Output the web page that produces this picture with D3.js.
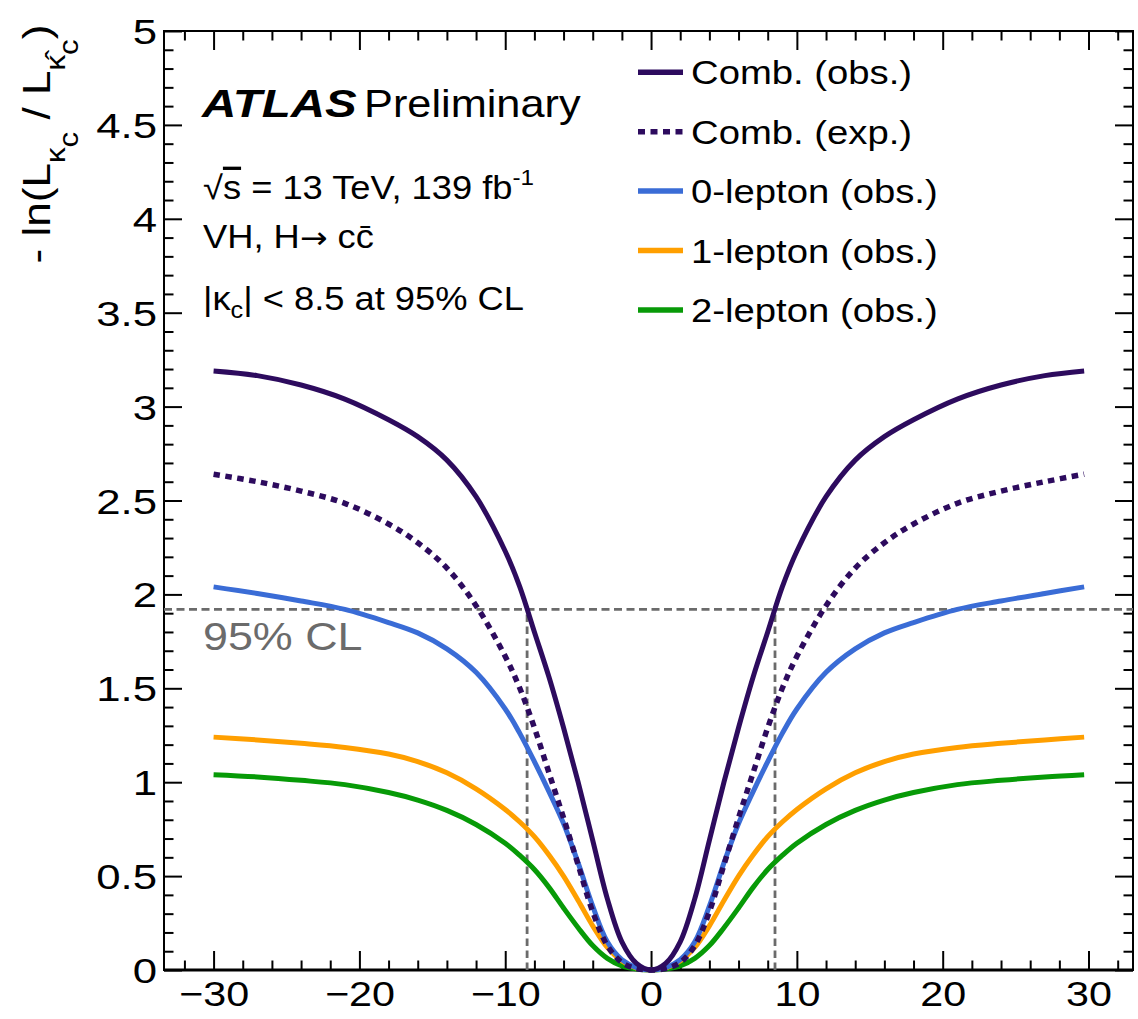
<!DOCTYPE html>
<html>
<head>
<meta charset="utf-8">
<script src="https://cdn.jsdelivr.net/npm/d3@7"></script>
<style>
  body { margin: 0; background: #fff; }
  svg { display: block; font-family: "Liberation Sans", Arial, Helvetica, sans-serif; }
</style>
</head>
<body>
<svg id="chart" width="1138" height="1019"></svg>
<script>
// kappa_c scan points (same grid for every curve)
const kappa = [-30, -27, -24, -21, -18, -16, -14, -12, -10, -9, -8, -7, -6, -5, -4, -3, -2, -1, 0,
  1, 2, 3, 4, 5, 6, 7, 8, 9, 10, 12, 14, 16, 18, 21, 24, 27, 29.7];

// -ln(L/Lmax)
const combObs = [3.19, 3.165, 3.115, 3.04, 2.93, 2.84, 2.715, 2.52, 2.23, 2.04, 1.80, 1.56, 1.29, 1.00, 0.69, 0.38, 0.15, 0.035, 0,
  0.035, 0.15, 0.38, 0.69, 1.00, 1.29, 1.56, 1.80, 2.04, 2.23, 2.52, 2.715, 2.84, 2.93, 3.04, 3.115, 3.165, 3.19];
const combExp = [2.64, 2.60, 2.55, 2.485, 2.375, 2.275, 2.14, 1.94, 1.67, 1.50, 1.29, 1.05, 0.81, 0.56, 0.31, 0.13, 0.04, 0.008, 0,
  0.008, 0.04, 0.13, 0.31, 0.56, 0.81, 1.05, 1.29, 1.50, 1.67, 1.94, 2.14, 2.275, 2.375, 2.485, 2.55, 2.60, 2.64];
const zeroLep = [2.04, 2.005, 1.965, 1.92, 1.85, 1.795, 1.71, 1.585, 1.39, 1.26, 1.11, 0.95, 0.78, 0.57, 0.34, 0.15, 0.055, 0.013, 0,
  0.013, 0.055, 0.15, 0.34, 0.57, 0.78, 0.95, 1.11, 1.26, 1.39, 1.585, 1.71, 1.795, 1.85, 1.92, 1.965, 2.005, 2.04];
const oneLep = [1.24, 1.225, 1.207, 1.185, 1.15, 1.11, 1.05, 0.965, 0.855, 0.788, 0.71, 0.612, 0.50, 0.37, 0.235, 0.12, 0.048, 0.01, 0,
  0.01, 0.048, 0.12, 0.235, 0.37, 0.50, 0.612, 0.71, 0.788, 0.855, 0.965, 1.05, 1.11, 1.15, 1.185, 1.207, 1.225, 1.24];
const twoLep = [1.04, 1.028, 1.01, 0.987, 0.945, 0.905, 0.85, 0.775, 0.675, 0.61, 0.535, 0.44, 0.33, 0.225, 0.13, 0.062, 0.022, 0.005, 0,
  0.005, 0.022, 0.062, 0.13, 0.225, 0.33, 0.44, 0.535, 0.61, 0.675, 0.775, 0.85, 0.905, 0.945, 0.987, 1.01, 1.028, 1.04];

const legendLabels = ["Comb. (obs.)", "Comb. (exp.)", "0-lepton (obs.)", "1-lepton (obs.)", "2-lepton (obs.)"];
const xMajor = [-30, -20, -10, 0, 10, 20, 30];
const xMinor = [-32, -28, -26, -24, -22, -18, -16, -14, -12, -8, -6, -4, -2, 2, 4, 6, 8, 12, 14, 16, 18, 22, 24, 26, 28, 32];
const xTickLabels = ["\u221230", "\u221220", "\u221210", "0", "10", "20", "30"];
const yMajor = [0, 0.5, 1, 1.5, 2, 2.5, 3, 3.5, 4, 4.5, 5];
const yTickLabels = ["0", "0.5", "1", "1.5", "2", "2.5", "3", "3.5", "4", "4.5", "5"];
const clLevel = 1.92;     // 95% CL line
const kappaLimit = 8.5;   // observed |kappa_c| limit

const series = [
  { name: legendLabels[0], values: combObs, color: "#2d0b5e", dash: null },
  { name: legendLabels[1], values: combExp, color: "#2d0b5e", dash: "6.5,5.5" },
  { name: legendLabels[2], values: zeroLep, color: "#3a6cd6", dash: null },
  { name: legendLabels[3], values: oneLep, color: "#ff9f00", dash: null },
  { name: legendLabels[4], values: twoLep, color: "#079a07", dash: null }
];

const frame = { left: 164, right: 1133, top: 31, bottom: 970 };
const SX = 1.18; // the reference text is a bit wider than Liberation Sans

const svg = d3.select("#chart");

const x = d3.scaleLinear().domain([-33.4, 33.05]).range([frame.left, frame.right]);
const y = d3.scaleLinear().domain([0, 5]).range([frame.bottom, frame.top]);

// minor y ticks every 0.1
const yMinor = d3.range(0, 51).map(i => i / 10).filter(v => !yMajor.some(m => Math.abs(m - v) < 1e-6));

function tickAxis(axis, tr) {
  const g = svg.append("g").attr("transform", tr).call(axis);
  g.select(".domain").remove();
  g.selectAll(".tick line").attr("stroke", "#000").attr("stroke-width", 2);
  return g;
}

// ticks all point inward (ROOT style), mirrored on top and right
tickAxis(d3.axisBottom(x).tickValues(xMinor).tickSize(-9.5).tickFormat(""), `translate(0,${frame.bottom})`);
tickAxis(d3.axisTop(x).tickValues(xMinor).tickSize(-9.5).tickFormat(""), `translate(0,${frame.top})`);
tickAxis(d3.axisTop(x).tickValues(xMajor).tickSize(-19).tickFormat(""), `translate(0,${frame.top})`);
tickAxis(d3.axisLeft(y).tickValues(yMinor).tickSize(-9.5).tickFormat(""), `translate(${frame.left},0)`);
tickAxis(d3.axisRight(y).tickValues(yMinor).tickSize(-9.5).tickFormat(""), `translate(${frame.right},0)`);
tickAxis(d3.axisRight(y).tickValues(yMajor).tickSize(-18).tickFormat(""), `translate(${frame.right},0)`);

const xAxis = tickAxis(
  d3.axisBottom(x).tickValues(xMajor).tickSize(-19).tickPadding(0).tickFormat((d, i) => xTickLabels[i]),
  `translate(0,${frame.bottom})`
);
xAxis.selectAll("text")
  .attr("fill", "#000").attr("font-size", 35)
  .attr("dy", null).attr("y", 36)
  .attr("transform", `scale(${SX},1)`);

const yAxis = tickAxis(
  d3.axisLeft(y).tickValues(yMajor).tickSize(-18).tickPadding(0).tickFormat((d, i) => yTickLabels[i]),
  `translate(${frame.left},0)`
);
yAxis.selectAll("text")
  .attr("fill", "#000").attr("font-size", 35)
  .attr("dy", null).attr("y", 12.5)
  .attr("x", -7 / 1.25)
  .attr("transform", "scale(1.25,1)");

// frame
svg.append("rect")
  .attr("x", frame.left).attr("y", frame.top)
  .attr("width", frame.right - frame.left).attr("height", frame.bottom - frame.top)
  .attr("fill", "none").attr("stroke", "#000").attr("stroke-width", 2);
svg.append("line")
  .attr("x1", frame.left).attr("x2", frame.right)
  .attr("y1", frame.bottom).attr("y2", frame.bottom)
  .attr("stroke", "#000").attr("stroke-width", 3);

// 95% CL guide lines
const gray = "#6b6b6b";
svg.append("line")
  .attr("x1", frame.left).attr("x2", frame.right)
  .attr("y1", y(clLevel)).attr("y2", y(clLevel))
  .attr("stroke", gray).attr("stroke-width", 2.8).attr("stroke-dasharray", "8,4.5");
[-kappaLimit, kappaLimit].forEach(k => {
  svg.append("line")
    .attr("x1", x(k)).attr("x2", x(k))
    .attr("y1", y(0)).attr("y2", y(clLevel))
    .attr("stroke", gray).attr("stroke-width", 2.8).attr("stroke-dasharray", "7.5,4.5");
});

// curves
const line = d3.line()
  .x((d, i) => x(kappa[i]))
  .y(d => y(d))
  .curve(d3.curveCatmullRom.alpha(0.5));

svg.append("g").selectAll("path")
  .data(series.slice().reverse())
  .join("path")
  .attr("d", d => line(d.values))
  .attr("fill", "none")
  .attr("stroke", d => d.color)
  .attr("stroke-width", d => d.dash ? 5.5 : 5)
  .attr("stroke-dasharray", d => d.dash)
  .attr("stroke-linejoin", "round");

// stretched text helper
function label(px, py, size, sx, parent = svg) {
  return parent.append("text")
    .attr("transform", `translate(${px},${py}) scale(${sx},1)`)
    .attr("font-size", size)
    .attr("fill", "#000");
}

label(203, 650, 39, 1.15).attr("fill", gray).text("95% CL");

// legend
const legend = svg.append("g");
series.forEach((s, i) => {
  const ly = 72.3 + i * 59.4;
  legend.append("line")
    .attr("x1", 638).attr("x2", 683)
    .attr("y1", ly).attr("y2", ly)
    .attr("stroke", s.color).attr("stroke-width", 5.5)
    .attr("stroke-dasharray", s.dash ? "7,5.5" : null);
  label(691, ly + 12, 33, 1.16, legend).text(s.name);
});

// ATLAS label block
label(202, 117, 38, 1.25).attr("font-weight", "bold").attr("font-style", "italic").text("ATLAS");
label(364, 117, 38, 1.14).text("Preliminary");

const t1 = label(203, 199, 33, 1.1);
t1.append("tspan").text("\u221A");
t1.append("tspan").attr("text-decoration", "overline").text("s");
t1.append("tspan").text(" = 13 TeV, 139 fb");
t1.append("tspan").attr("font-size", 22).attr("dy", -14).text("-1");

const t2 = label(203, 248, 33, 1.1);
t2.append("tspan").text("VH, H");
t2.append("tspan").attr("font-family", "DejaVu Sans").attr("font-size", 30).text("\u2192");
t2.append("tspan").text(" cc\u0304");

const t3 = label(203, 310, 33, 1.1);
t3.append("tspan").text("|\u03BA");
t3.append("tspan").attr("font-size", 23).attr("dy", 8).text("c");
t3.append("tspan").attr("dy", -8).text("| < 8.5 at 95% CL");

// y axis title, rotated
const yTitle = svg.append("text")
  .attr("transform", "translate(50,144) rotate(-90) scale(1.16,1)")
  .attr("text-anchor", "middle")
  .attr("font-size", 38)
  .attr("fill", "#000");
yTitle.append("tspan").text("- ln(L");
yTitle.append("tspan").attr("font-size", 27).attr("dy", 15).text("\u03BA");
yTitle.append("tspan").attr("font-size", 27).attr("dy", 13).text("c");
yTitle.append("tspan").attr("dy", -28).text(" / L");
yTitle.append("tspan").attr("font-size", 27).attr("dy", 15).text("\u03BA\u0302");
yTitle.append("tspan").attr("font-size", 27).attr("dy", 13).text("c");
yTitle.append("tspan").attr("dy", -28).text(")");
</script>
</body>
</html>
